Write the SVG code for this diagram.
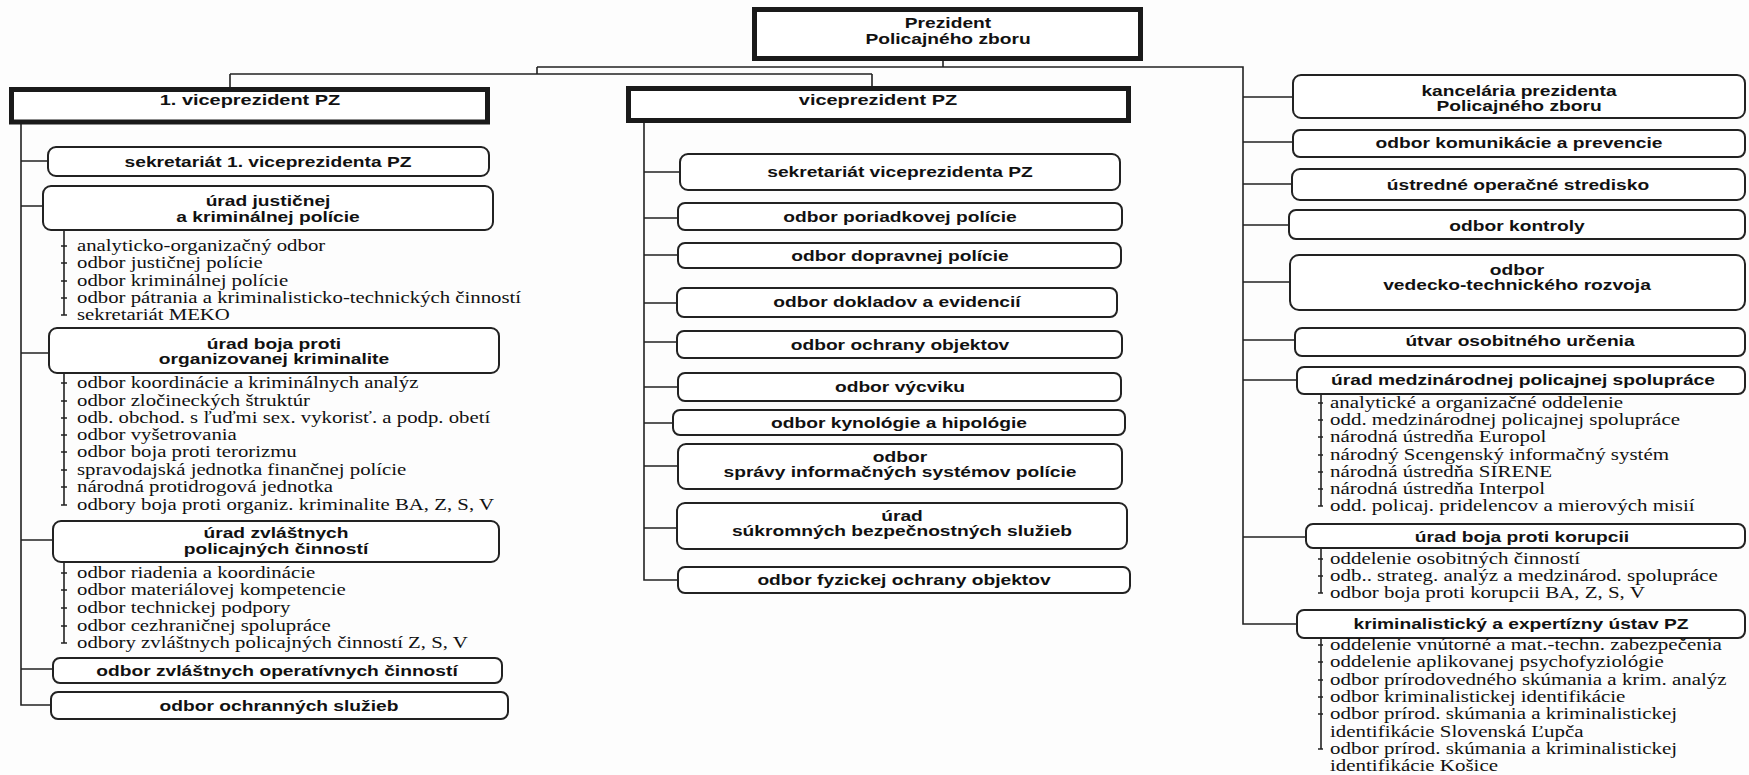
<svg xmlns="http://www.w3.org/2000/svg" width="1749" height="775" viewBox="0 0 1749 775">
<style>
.bg{fill:#fdfdfd}
.thick{fill:#fff;stroke:#1a1a1a;stroke-width:5}
.box{fill:#fff;stroke:#222;stroke-width:2}
.ln{stroke:#222;stroke-width:1.6;fill:none}
.b{font-family:"Liberation Sans",Arial,sans-serif;font-weight:bold;font-size:15px;fill:#111;text-anchor:middle}
.s{font-family:"Liberation Serif","Times New Roman",serif;font-size:16.5px;fill:#111}
</style>
<rect class="bg" x="0" y="0" width="1749" height="775"/>

<g id="connectors">
<path class="ln" d="M943 61V67M537 67H1243V624H1297M537 67V74M230 74H872M230 74V87M872 74V86"/>
<path class="ln" d="M21 124V705H51M21 161H48M21 206H43M21 353H49M21 540H53M21 669H53"/>
<path class="ln" d="M644 123V580H678M644 172H680M644 218H678M644 255H678M644 303H677M644 342H677M644 387H678M644 423H673M644 466H678M644 528H677"/>
<path class="ln" d="M1243 97H1293M1243 142H1293M1243 184H1292M1243 225H1289M1243 282H1290M1243 340H1295M1243 380H1297M1243 537H1306"/>
<path class="ln" d="M64 230V315M61 246H67M61 263H67M61 281H67M61 298H67M61 315H67"/>
<path class="ln" d="M64 373V505M61 383H67M61 401H67M61 418H67M61 435H67M61 452H67M61 470H67M61 487H67M61 505H67"/>
<path class="ln" d="M64 562V643M61 573H67M61 590H67M61 608H67M61 626H67M61 643H67"/>
<path class="ln" d="M1321 394V506M1318 403H1323M1318 420H1323M1318 437H1323M1318 455H1323M1318 472H1323M1318 489H1323M1318 506H1323"/>
<path class="ln" d="M1321 548V593M1318 559H1323M1318 576H1323M1318 593H1323"/>
<path class="ln" d="M1321 638V749M1318 645H1323M1318 662H1323M1318 680H1323M1318 697H1323M1318 714H1323M1318 749H1323"/>
</g>

<g id="president">
<rect class="thick" x="754.5" y="9.5" width="386" height="49"/>
<text class="b" transform="translate(948,28) scale(1.28,1)">Prezident</text>
<text class="b" transform="translate(948,44) scale(1.28,1)">Policajného zboru</text>
</g>

<g id="vp1">
<rect class="thick" x="11.5" y="89.5" width="476" height="32.5"/>
<text class="b" transform="translate(250,105) scale(1.33,1)">1. viceprezident PZ</text>
</g>

<g id="vp">
<rect class="thick" x="628.5" y="88.5" width="500" height="32"/>
<text class="b" transform="translate(878,105) scale(1.33,1)">viceprezident PZ</text>
</g>

<g id="l1"><rect class="box" x="48" y="147" width="441" height="29" rx="8"/>
<text class="b" transform="translate(268,167) scale(1.28,1)">sekretariát 1. viceprezidenta PZ</text></g>
<g id="l2"><rect class="box" x="43" y="186" width="450" height="44" rx="8"/>
<text class="b" transform="translate(268,206) scale(1.28,1)">úrad justičnej</text>
<text class="b" transform="translate(268,222) scale(1.28,1)">a kriminálnej polície</text></g>
<g id="l2-items" transform="translate(77,0) scale(1.26,1)">
<text class="s" x="0" y="251">analyticko-organizačný odbor</text>
<text class="s" x="0" y="268">odbor justičnej polície</text>
<text class="s" x="0" y="286">odbor kriminálnej polície</text>
<text class="s" x="0" y="303">odbor pátrania a kriminalisticko-technických činností</text>
<text class="s" x="0" y="320">sekretariát MEKO</text>
</g>
<g id="l3"><rect class="box" x="49" y="328" width="450" height="45" rx="8"/>
<text class="b" transform="translate(274,349) scale(1.28,1)">úrad boja proti</text>
<text class="b" transform="translate(274,364) scale(1.28,1)">organizovanej kriminalite</text></g>
<g id="l3-items" transform="translate(77,0) scale(1.26,1)">
<text class="s" x="0" y="388">odbor koordinácie a kriminálnych analýz</text>
<text class="s" x="0" y="406">odbor zločineckých štruktúr</text>
<text class="s" x="0" y="423">odb. obchod. s ľuďmi sex. vykorisť. a podp. obetí</text>
<text class="s" x="0" y="440">odbor vyšetrovania</text>
<text class="s" x="0" y="457">odbor boja proti terorizmu</text>
<text class="s" x="0" y="475">spravodajská jednotka finančnej polície</text>
<text class="s" x="0" y="492">národná protidrogová jednotka</text>
<text class="s" x="0" y="510">odbory boja proti organiz. kriminalite BA, Z, S, V</text>
</g>
<g id="l4"><rect class="box" x="53" y="521" width="446" height="41" rx="8"/>
<text class="b" transform="translate(276,538) scale(1.28,1)">úrad zvláštnych</text>
<text class="b" transform="translate(276,554) scale(1.28,1)">policajných činností</text></g>
<g id="l4-items" transform="translate(77,0) scale(1.26,1)">
<text class="s" x="0" y="578">odbor riadenia a koordinácie</text>
<text class="s" x="0" y="595">odbor materiálovej kompetencie</text>
<text class="s" x="0" y="613">odbor technickej podpory</text>
<text class="s" x="0" y="631">odbor cezhraničnej spolupráce</text>
<text class="s" x="0" y="648">odbory zvláštnych policajných činností Z, S, V</text>
</g>
<g id="l5"><rect class="box" x="53" y="658" width="449" height="25" rx="7"/>
<text class="b" transform="translate(277,676) scale(1.28,1)">odbor zvláštnych operatívnych činností</text></g>
<g id="l6"><rect class="box" x="51" y="692" width="457" height="27" rx="7"/>
<text class="b" transform="translate(279,711) scale(1.28,1)">odbor ochranných služieb</text></g>

<g id="m1"><rect class="box" x="680" y="154" width="440" height="36" rx="8"/>
<text class="b" transform="translate(900,177) scale(1.28,1)">sekretariát viceprezidenta PZ</text></g>
<g id="m2"><rect class="box" x="678" y="203" width="444" height="27" rx="7"/>
<text class="b" transform="translate(900,222) scale(1.28,1)">odbor poriadkovej polície</text></g>
<g id="m3"><rect class="box" x="678" y="243" width="443" height="25" rx="7"/>
<text class="b" transform="translate(900,261) scale(1.28,1)">odbor dopravnej polície</text></g>
<g id="m4"><rect class="box" x="677" y="288" width="440" height="29" rx="7"/>
<text class="b" transform="translate(897,307) scale(1.28,1)">odbor dokladov a evidencií</text></g>
<g id="m5"><rect class="box" x="677" y="331" width="445" height="27" rx="7"/>
<text class="b" transform="translate(900,350) scale(1.28,1)">odbor ochrany objektov</text></g>
<g id="m6"><rect class="box" x="678" y="373" width="443" height="28" rx="7"/>
<text class="b" transform="translate(900,392) scale(1.28,1)">odbor výcviku</text></g>
<g id="m7"><rect class="box" x="673" y="410" width="452" height="25" rx="7"/>
<text class="b" transform="translate(899,428) scale(1.28,1)">odbor kynológie a hipológie</text></g>
<g id="m8"><rect class="box" x="678" y="444" width="444" height="45" rx="8"/>
<text class="b" transform="translate(900,462) scale(1.28,1)">odbor</text>
<text class="b" transform="translate(900,477) scale(1.28,1)">správy informačných systémov polície</text></g>
<g id="m9"><rect class="box" x="677" y="503" width="450" height="46" rx="8"/>
<text class="b" transform="translate(902,521) scale(1.28,1)">úrad</text>
<text class="b" transform="translate(902,536) scale(1.28,1)">súkromných bezpečnostných služieb</text></g>
<g id="m10"><rect class="box" x="678" y="567" width="452" height="26" rx="7"/>
<text class="b" transform="translate(904,585) scale(1.28,1)">odbor fyzickej ochrany objektov</text></g>

<g id="r1"><rect class="box" x="1293" y="75" width="452" height="43" rx="8"/>
<text class="b" transform="translate(1519,96) scale(1.28,1)">kancelária prezidenta</text>
<text class="b" transform="translate(1519,111) scale(1.28,1)">Policajného zboru</text></g>
<g id="r2"><rect class="box" x="1293" y="130" width="452" height="27" rx="7"/>
<text class="b" transform="translate(1519,148) scale(1.28,1)">odbor komunikácie a prevencie</text></g>
<g id="r3"><rect class="box" x="1292" y="169" width="453" height="31" rx="8"/>
<text class="b" transform="translate(1518,190) scale(1.28,1)">ústredné operačné stredisko</text></g>
<g id="r4"><rect class="box" x="1289" y="210" width="456" height="29" rx="7"/>
<text class="b" transform="translate(1517,231) scale(1.28,1)">odbor kontroly</text></g>
<g id="r5"><rect class="box" x="1290" y="255" width="455" height="55" rx="9"/>
<text class="b" transform="translate(1517,275) scale(1.28,1)">odbor</text>
<text class="b" transform="translate(1517,290) scale(1.28,1)">vedecko-technického rozvoja</text></g>
<g id="r6"><rect class="box" x="1295" y="328" width="450" height="28" rx="7"/>
<text class="b" transform="translate(1520,346) scale(1.28,1)">útvar osobitného určenia</text></g>
<g id="r7"><rect class="box" x="1297" y="367" width="448" height="27" rx="7"/>
<text class="b" transform="translate(1523,385) scale(1.28,1)">úrad medzinárodnej policajnej spolupráce</text></g>
<g id="r7-items" transform="translate(1330,0) scale(1.27,1)">
<text class="s" x="0" y="408">analytické a organizačné oddelenie</text>
<text class="s" x="0" y="425">odd. medzinárodnej policajnej spolupráce</text>
<text class="s" x="0" y="442">národná ústredňa Europol</text>
<text class="s" x="0" y="460">národný Scengenský informačný systém</text>
<text class="s" x="0" y="477">národná ústredňa SIRENE</text>
<text class="s" x="0" y="494">národná ústredňa Interpol</text>
<text class="s" x="0" y="511">odd. policaj. pridelencov a mierových misií</text>
</g>
<g id="r8"><rect class="box" x="1306" y="524" width="439" height="24" rx="7"/>
<text class="b" transform="translate(1522,542) scale(1.28,1)">úrad boja proti korupcii</text></g>
<g id="r8-items" transform="translate(1330,0) scale(1.27,1)">
<text class="s" x="0" y="564">oddelenie osobitných činností</text>
<text class="s" x="0" y="581">odb.. strateg. analýz a medzinárod. spolupráce</text>
<text class="s" x="0" y="598">odbor boja proti korupcii BA, Z, S, V</text>
</g>
<g id="r9"><rect class="box" x="1297" y="610" width="448" height="28" rx="7"/>
<text class="b" transform="translate(1521,629) scale(1.28,1)">kriminalistický a expertízny ústav PZ</text></g>
<g id="r9-items" transform="translate(1330,0) scale(1.27,1)">
<text class="s" x="0" y="650">oddelenie vnútorné a mat.-techn. zabezpečenia</text>
<text class="s" x="0" y="667">oddelenie aplikovanej psychofyziológie</text>
<text class="s" x="0" y="685">odbor prírodovedného skúmania a krim. analýz</text>
<text class="s" x="0" y="702">odbor kriminalistickej identifikácie</text>
<text class="s" x="0" y="719">odbor prírod. skúmania a kriminalistickej</text>
<text class="s" x="0" y="737">identifikácie Slovenská Ľupča</text>
<text class="s" x="0" y="754">odbor prírod. skúmania a kriminalistickej</text>
<text class="s" x="0" y="771">identifikácie Košice</text>
</g>
</svg>
